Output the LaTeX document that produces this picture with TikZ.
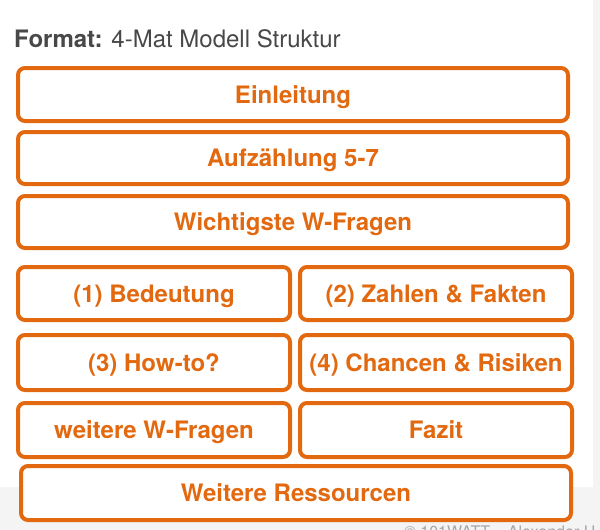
\documentclass[tikz,border=0pt]{standalone}
\usepackage{fontspec}
\setmainfont{TeX Gyre Heros}
\definecolor{orng}{HTML}{E2690F}
\definecolor{bggray}{HTML}{F4F4F4}
\definecolor{titlegray}{HTML}{484848}
\begin{document}
\begin{tikzpicture}[x=1pt,y=-1pt,
  box/.style={draw=orng, line width=4pt, rounded corners=7pt, fill=white,
    inner sep=0pt, text=orng, text height=17pt, text depth=0pt,
    font=\fontsize{24}{28}\selectfont\bfseries},
  wide/.style={box, minimum width=550pt},
  half/.style={box, minimum width=272pt}]
\useasboundingbox (0,0) rectangle (600,530);
\begin{scope}
\clip (0,0) rectangle (600,530);
\fill[bggray] (0,0) rectangle (600,530);
\fill[white] (0,0) rectangle (593,487);
\node[anchor=base west, inner sep=0pt, text=titlegray, font=\fontsize{24}{28}\selectfont] (title) at (14,47) {\textbf{Format:} 4-Mat Modell Struktur};
\node[wide, minimum height=53pt] (einl) at (293,94.5) {Einleitung};
\node[wide, minimum height=52pt] (aufz) at (293,158) {Aufzählung 5-7};
\node[wide, minimum height=52pt] (wfr) at (293,222) {Wichtigste W-Fragen};
\node[half, minimum height=53pt] (bed) at (154,293.5) {(1) Bedeutung};
\node[half, minimum height=53pt] (zah) at (436,293.5) {(2) Zahlen \& Fakten};
\node[half, minimum height=55pt] (how) at (154,362.5) {(3) How-to?};
\node[half, minimum height=55pt] (cha) at (436,362.5) {(4) Chancen \& Risiken};
\node[half, minimum height=54pt] (wei) at (154,430) {weitere W-Fragen};
\node[half, minimum height=54pt] (faz) at (436,430) {Fazit};
\node[wide, minimum height=54pt] (res) at (296,493) {Weitere Ressourcen};
\node[anchor=north west, inner sep=0pt, text=gray!70, font=\fontsize{16}{18}\selectfont] (foot) at (404,526) {© 101WATT – Alexander H};
\end{scope}
\end{tikzpicture}
\end{document}
